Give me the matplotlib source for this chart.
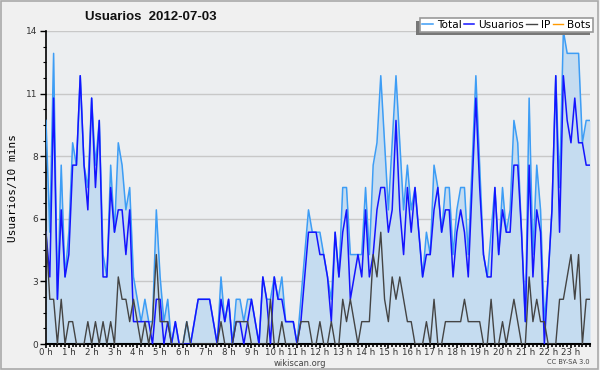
import numpy as np
import matplotlib
matplotlib.use("Agg")
import matplotlib.pyplot as plt
from matplotlib.patches import Shadow, Rectangle
from matplotlib.ticker import MultipleLocator, FixedLocator

# Valores cada 10 minutos (144 puntos)
total = [10, 5, 13, 2, 8, 3, 5, 9, 8, 12,
         8, 7, 11, 8, 10, 4, 3, 8, 5, 9,
         8, 6, 7, 3, 2, 1, 2, 1, 1, 6,
         3, 1, 2, 0, 1, 0, 0, 1, 0, 1,
         2, 2, 2, 2, 1, 0, 3, 1, 2, 0,
         2, 2, 1, 2, 2, 1, 0, 3, 2, 2,
         3, 2, 3, 1, 1, 1, 0, 2, 4, 6,
         5, 5, 5, 4, 3, 2, 5, 3, 7, 7,
         4, 4, 4, 4, 7, 4, 8, 9, 12, 9,
         6, 9, 12, 9, 6, 8, 6, 7, 5, 3,
         5, 4, 8, 7, 5, 7, 7, 4, 6, 7,
         7, 4, 8, 12, 8, 4, 3, 5, 7, 4,
         7, 5, 6, 10, 9, 5, 1, 11, 4, 8,
         6, 1, 3, 6, 12, 7, 14, 13, 13, 13,
         13, 9, 10, 10]
usuarios = [5, 3, 11, 2, 6, 3, 4, 8, 8, 12,
            8, 6, 11, 7, 10, 3, 3, 7, 5, 6,
            6, 4, 6, 1, 1, 1, 1, 1, 0, 2,
            2, 0, 1, 0, 1, 0, 0, 0, 0, 1,
            2, 2, 2, 2, 1, 0, 2, 1, 2, 0,
            1, 1, 0, 1, 2, 1, 0, 3, 2, 0,
            3, 2, 2, 1, 1, 1, 0, 1, 3, 5,
            5, 5, 4, 4, 3, 1, 5, 3, 5, 6,
            2, 3, 4, 3, 6, 3, 4, 6, 7, 7,
            5, 6, 10, 6, 4, 7, 5, 7, 5, 3,
            4, 4, 6, 7, 5, 6, 6, 3, 5, 6,
            5, 3, 7, 11, 7, 4, 3, 3, 7, 4,
            6, 5, 5, 8, 8, 5, 1, 8, 3, 6,
            5, 0, 3, 6, 12, 5, 12, 10, 9, 11,
            9, 9, 8, 8]
ip = [5, 2, 2, 0, 2, 0, 1, 1, 0, 0,
      0, 1, 0, 1, 0, 1, 0, 1, 0, 3,
      2, 2, 1, 2, 1, 0, 1, 0, 1, 4,
      1, 1, 1, 0, 0, 0, 0, 1, 0, 0,
      0, 0, 0, 0, 0, 0, 1, 0, 0, 0,
      1, 1, 1, 1, 0, 0, 0, 0, 0, 2,
      0, 0, 1, 0, 0, 0, 0, 1, 1, 1,
      0, 0, 1, 0, 0, 1, 0, 0, 2, 1,
      2, 1, 0, 1, 1, 1, 4, 3, 5, 2,
      1, 3, 2, 3, 2, 1, 1, 0, 0, 0,
      1, 0, 2, 0, 0, 1, 1, 1, 1, 1,
      2, 1, 1, 1, 1, 0, 0, 2, 0, 0,
      1, 0, 1, 2, 1, 0, 0, 3, 1, 2,
      1, 1, 0, 0, 0, 2, 2, 3, 4, 2,
      4, 0, 2, 2]
bots = [0] * 144

horas = [f"{h} h" for h in range(24)]
y_ticks = [0, 2.8, 5.6, 8.4, 11.2, 14]
y_labels = ["0", "3", "6", "8", "11", "14"]

x = np.arange(len(total))

fig = plt.figure(figsize=(6, 3.7), dpi=100, facecolor="#f0f0f0")
ax = fig.add_axes([46 / 600, 1 - 344 / 370, 544 / 600, 313 / 370])
ax.set_facecolor("#eceef0")

ax.fill_between(x, total, 0, color="#c5dcf0", lw=0, zorder=1)
ax.plot(x, total, color="#3d9df5", lw=1.1, label="Total", zorder=3)
ax.plot(x, usuarios, color="#1414ff", lw=1.1, label="Usuarios", zorder=4)
ax.plot(x, ip, color="#444444", lw=1.0, label="IP", zorder=5)
ax.plot(x, bots, color="#ff9a00", lw=1.0, label="Bots", zorder=2)

ax.set_xlim(0, len(total) - 1)
ax.set_ylim(0, 14)

ax.xaxis.set_major_locator(FixedLocator(np.arange(0, 144, 6)))
ax.set_xticklabels(horas)
ax.xaxis.set_minor_locator(MultipleLocator(1))
ax.yaxis.set_major_locator(FixedLocator(y_ticks))
ax.set_yticklabels(y_labels)
ax.yaxis.set_minor_locator(MultipleLocator(0.7))

ax.tick_params(axis="x", which="major", length=3.2, width=1.2, pad=-0.5,
               labelsize=6.2, colors="black", labelcolor="#333333")
ax.tick_params(axis="x", which="minor", length=2.2, width=1.2)
ax.tick_params(axis="y", which="major", length=4, width=1, pad=2,
               labelsize=6.5, labelcolor="#333333")
ax.tick_params(axis="y", which="minor", length=2, width=0.8)

for side in ("top", "right"):
    ax.spines[side].set_visible(False)
ax.spines["left"].set_linewidth(1.2)
ax.spines["bottom"].set_linewidth(1.5)
ax.grid(axis="y", which="major", color="#c8c8c8", lw=1)
ax.set_axisbelow(True)

ax.set_ylabel("Usuarios/10 mins", fontsize=8, family="DejaVu Sans Mono",
              labelpad=6)

fig.text(85 / 600, 1 - 17 / 370, "Usuarios  2012-07-03", fontsize=9.5,
         family="Liberation Sans", fontweight="bold", va="center",
         ha="left", color="#111111")
fig.text(300 / 600, 1 - 363 / 370, "wikiscan.org", fontsize=6,
         ha="center", va="center", color="#444444")
fig.text(590 / 600, 1 - 362 / 370, "CC BY-SA 3.0", fontsize=4.8,
         ha="right", va="center", color="#444444")

# marco de la figura
fig.add_artist(Rectangle((0.002, 0.003), 0.995, 0.994, transform=fig.transFigure,
                         fill=False, edgecolor="#aaaaaa", lw=1.2, zorder=10))

handles, labels = ax.get_legend_handles_labels()
leg = fig.legend(handles, labels, ncol=4, loc="upper right",
                 bbox_to_anchor=(593 / 600, 1 - 17.5 / 370),
                 fontsize=7.6, frameon=True, fancybox=False,
                 handlelength=1.0, handletextpad=0.4, columnspacing=0.2,
                 borderpad=0.2, borderaxespad=0)
leg.get_frame().set_edgecolor("#999999")
leg.get_frame().set_linewidth(1.2)
leg.get_frame().set_facecolor("white")
leg.get_frame().set_alpha(1)
leg.set_zorder(6)

sombra = Shadow(leg.legendPatch, -2.5, -2.5, facecolor="#777777",
                edgecolor="none", alpha=1, zorder=5.5)
fig.add_artist(sombra)

fig.canvas.draw()
fig.savefig("out.png", dpi=100, facecolor=fig.get_facecolor())
